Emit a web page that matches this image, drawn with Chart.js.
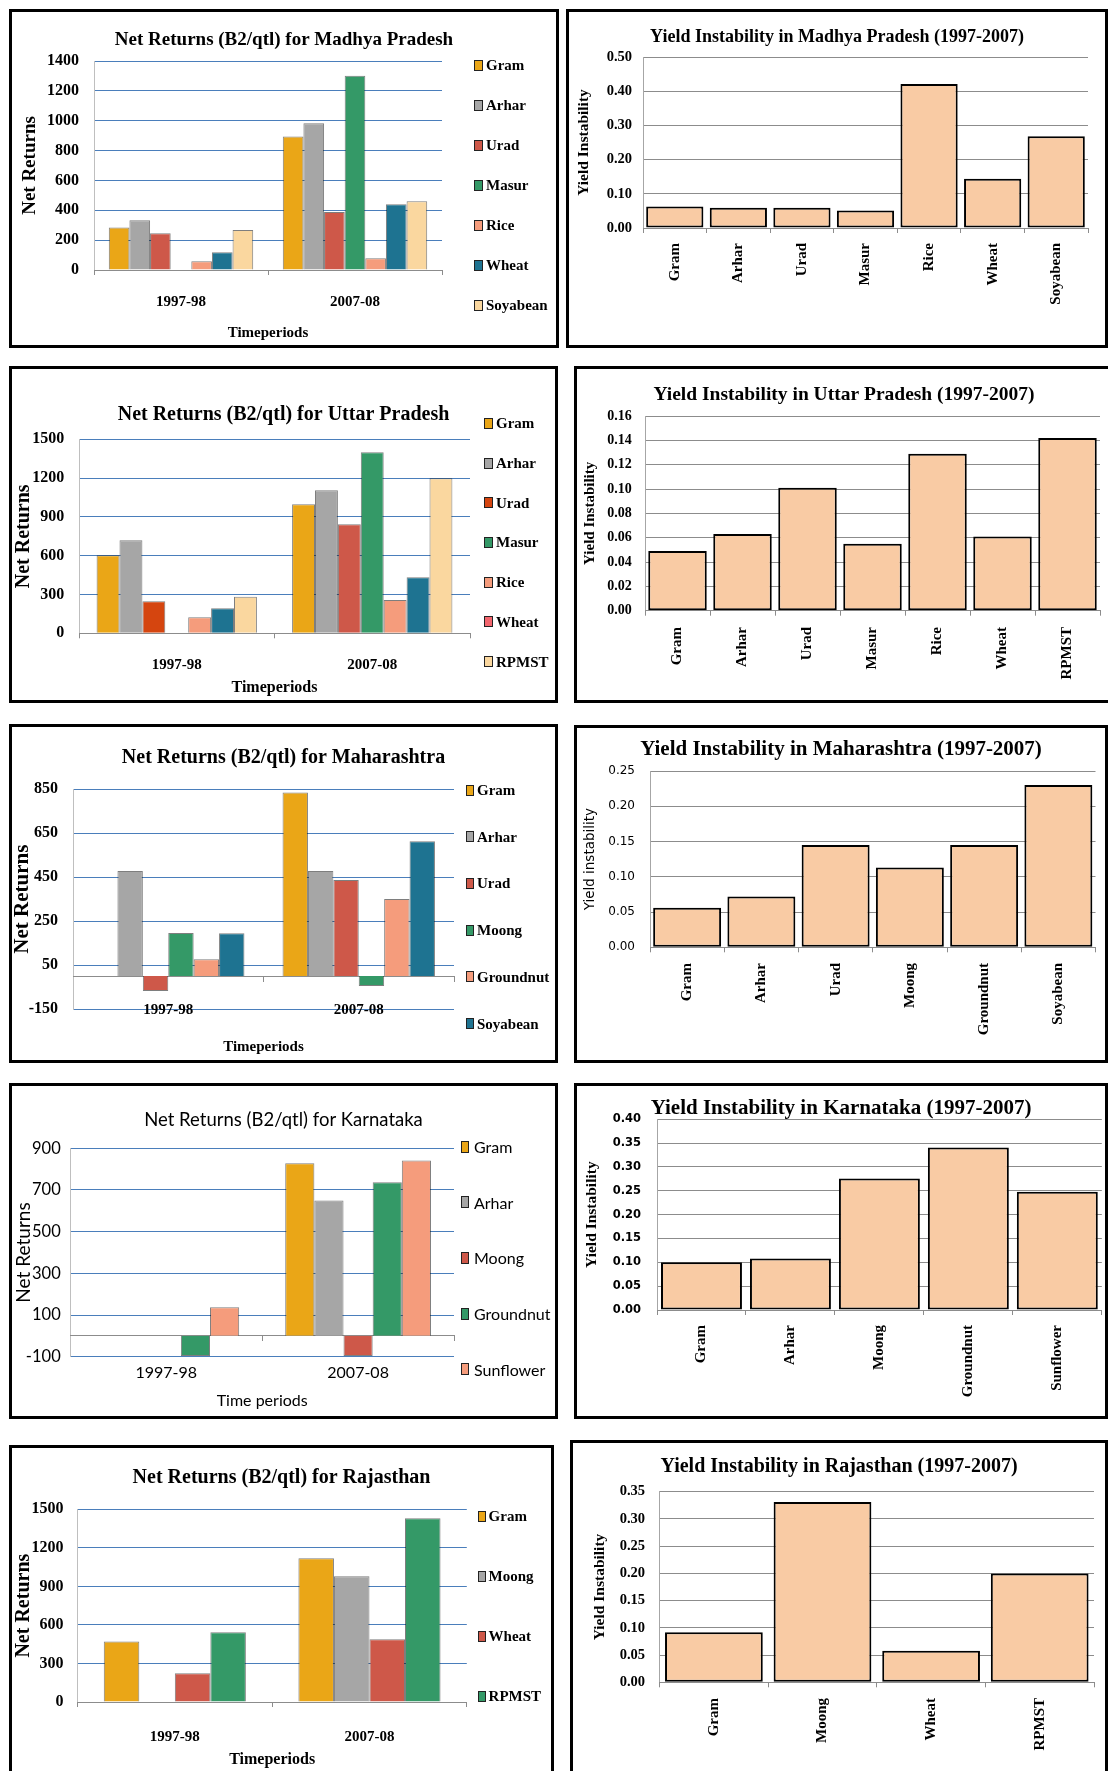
<!DOCTYPE html>
<html><head><meta charset="utf-8">
<script src="https://cdn.jsdelivr.net/npm/chart.js@4.4.1/dist/chart.umd.min.js"></script>
<style>
html,body{margin:0;padding:0;background:#fff;}
body{width:1108px;height:1771px;overflow:hidden;position:relative;}
.panel{position:absolute;border:3px solid #000;box-sizing:border-box;background:#fff;overflow:hidden;}
.panel canvas{position:absolute;left:0;top:0;}
.li{position:absolute;white-space:nowrap;color:#000;}
.sw{position:absolute;border:1px solid #222;box-sizing:border-box;}
</style></head><body>
<script>
// ---------------- DATA ----------------
const periods = ['1997-98', '2007-08'];

const mpCrops = ['Gram', 'Arhar', 'Urad', 'Masur', 'Rice', 'Wheat', 'Soyabean'];
const mpReturns1997 = [284, 333, 246, null, 59, 119, 268];
const mpReturns2007 = [894, 983, 389, 1302, 79, 441, 460];
const mpReturnsAxis = [0, 1400, 200];
const mpInstability = [0.063, 0.059, 0.059, 0.051, 0.421, 0.144, 0.268];
const mpInstabilityAxis = [0, 0.5, 0.1];

const upCrops = ['Gram', 'Arhar', 'Urad', 'Masur', 'Rice', 'Wheat', 'RPMST'];
const upReturns1997 = [603, 719, 247, null, 124, 193, 283];
const upReturns2007 = [997, 1106, 843, 1399, 258, 433, 1198];
const upReturnsAxis = [0, 1500, 300];
const upInstability = [0.049, 0.063, 0.101, 0.055, 0.129, 0.061, 0.142];
const upInstabilityAxis = [0, 0.16, 0.02];

const mhCrops = ['Gram', 'Arhar', 'Urad', 'Moong', 'Groundnut', 'Soyabean'];
const mhReturns1997 = [null, 478, -68, 196, 76, 195];
const mhReturns2007 = [836, 478, 437, -45, 351, 613];
const mhReturnsAxis = [-150, 850, 200];
const mhInstability = [0.056, 0.072, 0.145, 0.113, 0.145, 0.230];
const mhInstabilityAxis = [0, 0.25, 0.05];

const kaCrops = ['Gram', 'Arhar', 'Moong', 'Groundnut', 'Sunflower'];
const kaReturns1997 = [null, null, null, -97, 137];
const kaReturns2007 = [828, 650, -97, 737, 842];
const kaReturnsAxis = [-100, 900, 200];
const kaInstability = [0.100, 0.108, 0.276, 0.341, 0.248];
const kaInstabilityAxis = [0, 0.40, 0.05];

const rjCrops = ['Gram', 'Moong', 'Wheat', 'RPMST'];
const rjReturns1997 = [470, null, 223, 542];
const rjReturns2007 = [1119, 978, 488, 1430];
const rjReturnsAxis = [0, 1500, 300];
const rjInstability = [0.092, 0.331, 0.058, 0.200];
const rjInstabilityAxis = [0, 0.35, 0.05];

// ---------------- STYLE ----------------
const SERIF = "'Liberation Serif', 'Times New Roman', serif";
const LATO = "Lato, 'Open Sans', sans-serif";
const DJV = "'DejaVu Sans', Verdana, sans-serif";
const COL = {gram:'#EAA617', arhar:'#A6A6A6', red:'#CE5849', green:'#349967', salmon:'#F59C7C',
  teal:'#1E7391', light:'#FAD79F', peach:'#F9CBA4', urad97:'#D5450F', pink:'#F3666E'};
const BLUE = '#4A7EBB', GRAY = '#8C8C8C';

Chart.defaults.color = '#000';
Chart.defaults.font.family = SERIF;

function fnt(size, family, weight) { return {size: size, family: family || SERIF, weight: weight || 'bold', lineHeight: 1.2}; }

function createPanel(pn) {
  const div = document.createElement('div');
  div.className = 'panel';
  Object.assign(div.style, {left: pn.x + 'px', top: pn.y + 'px', width: pn.w + 'px', height: pn.h + 'px'});
  const W = pn.w - 6, H = pn.h - 6;
  const cv = document.createElement('canvas');
  cv.width = W; cv.height = H; cv.style.width = W + 'px'; cv.style.height = H + 'px';
  div.appendChild(cv);
  document.body.appendChild(div);
  return {div: div, cv: cv, ox: pn.x + 3, oy: pn.y + 3, W: W, H: H};
}

function baseOptions(P, s) {
  const L = s.area.L - P.ox, R = s.area.R - P.ox, T = s.area.T - P.oy, B = s.area.B - P.oy;
  const tc = s.tc - P.oy;
  const tlh = s.titleFont.size * 1.2;
  const ylh = s.yTitleFont.size * 1.2;
  const o = {
    responsive: false, animation: false, devicePixelRatio: 1,
    layout: {padding: 0},
    plugins: {
      legend: {display: false}, tooltip: {enabled: false},
      title: {display: true, text: s.title, color: '#000', font: s.titleFont, fullSize: true,
        padding: {top: tc - tlh / 2, bottom: T - tc - tlh / 2}}
    },
    scales: {
      y: {
        min: s.axis[0], max: s.axis[1],
        ticks: {stepSize: s.axis[2], font: s.yTickFont, padding: L - (s.yTickRight - P.ox), color: '#000', callback: s.fmt},
        grid: {color: s.gridColor, lineWidth: 1, drawTicks: false},
        border: {display: true, color: s.yBorder},
        title: {display: true, text: s.yTitle, font: s.yTitleFont, color: '#000', padding: {top: s.yTitleX - P.ox - ylh / 2, bottom: 0}},
        afterFit: function (sc) { sc.width = L; }
      },
      yR: {position: 'right', display: true, grid: {display: false}, ticks: {display: false}, border: {display: false},
        afterFit: function (sc) { sc.width = P.W - R; }}
    }
  };
  return {o: o, L: L, R: R, T: T, B: B};
}

function addLegend(P, names, colors, lg) {
  names.forEach(function (n, i) {
    const cy = lg.cy0 + i * lg.dy - P.oy;
    const sw = document.createElement('div');
    sw.className = 'sw';
    Object.assign(sw.style, {left: (lg.sx - P.ox) + 'px', top: (cy - lg.sh / 2) + 'px', width: lg.sw + 'px', height: lg.sh + 'px', background: colors[i]});
    P.div.appendChild(sw);
    const t = document.createElement('div');
    t.className = 'li';
    t.textContent = n;
    Object.assign(t.style, {left: (lg.tx - P.ox) + 'px', top: (cy - lg.fs * 0.6) + 'px', font: lg.weight + ' ' + lg.fs + 'px ' + lg.family, lineHeight: (lg.fs * 1.2) + 'px'});
    P.div.appendChild(t);
  });
}

function returnsChart(s) {
  const P = createPanel(s.panel);
  s.gridColor = function (c) { return (c.tick && c.tick.value === 0) ? GRAY : BLUE; };
  s.yBorder = '#BFBFBF';
  s.fmt = function (v) { return String(v); };
  const b = baseOptions(P, s);
  const xlh = s.xTickFont.size * 1.2, xtlh = s.xTitleFont.size * 1.2;
  const tl = s.zeroMin ? 5 : 0;
  b.o.scales.x = {
    ticks: {display: !s.labelsOnBottomLine, font: s.xTickFont, padding: (s.xLabelY - P.oy) - b.B - tl - xlh / 2, maxRotation: 0, minRotation: 0, autoSkip: false, color: '#000'},
    grid: s.zeroMin ? {display: true, drawOnChartArea: false, drawTicks: true, tickLength: 5, color: GRAY, offset: true}
                    : {display: false, drawTicks: false, offset: true},
    border: {display: !!s.zeroMin, color: GRAY},
    title: {display: true, text: s.xTitle, font: s.xTitleFont, color: '#000', padding: {top: 0, bottom: P.H - (s.xTitleY - P.oy) - xtlh / 2}},
    afterFit: function (sc) { sc.height = P.H - b.B; }
  };
  if (!s.zeroMin) {
    // axis line through zero with tick marks between the periods
    b.o.scales.x0 = {
      type: 'category', position: {y: 0}, offset: true,
      grid: {display: true, drawOnChartArea: false, drawTicks: true, tickLength: 5, color: GRAY, offset: true},
      border: {display: true, color: GRAY},
      ticks: {display: false},
      afterFit: function (sc) { sc.height = 0; }
    };
  }
  if (s.labelsOnBottomLine) {
    // period labels sitting on the lowest gridline
    b.o.scales.xLab = {
      type: 'category', position: {y: s.axis[0]}, offset: true,
      grid: {display: false, drawTicks: false, offset: true},
      border: {display: false},
      ticks: {font: s.xTickFont, padding: (s.xLabelY - P.oy) - b.B - xlh / 2, maxRotation: 0, minRotation: 0, autoSkip: false, color: '#000'},
      afterFit: function (sc) { sc.height = 0; }
    };
  }
  const datasets = s.crops.map(function (c, i) {
    return {label: c, data: [s.v1[i], s.v2[i]], backgroundColor: s.colors[i],
      borderColor: 'rgba(20,20,20,0.55)', borderWidth: 1,
      barPercentage: 1.0, categoryPercentage: s.catPct};
  });
  new Chart(P.cv, {type: 'bar', data: {labels: periods, datasets: datasets}, options: b.o});
  addLegend(P, s.crops, s.legendColors || s.colors, s.legend);
}

function yieldChart(s) {
  const P = createPanel(s.panel);
  s.gridColor = GRAY;
  s.yBorder = '#A6A6A6';
  s.fmt = function (v) { return Number(v).toFixed(2); };
  const b = baseOptions(P, s);
  b.o.scales.x = {
    ticks: {font: s.xTickFont, padding: (s.xLabelTop - P.oy) - b.B - 5, minRotation: 90, maxRotation: 90, autoSkip: false, color: '#000'},
    grid: {display: true, drawOnChartArea: false, drawTicks: true, tickLength: 5, color: GRAY, offset: true},
    border: {display: true, color: GRAY},
    afterFit: function (sc) { sc.height = P.H - b.B; }
  };
  new Chart(P.cv, {type: 'bar', data: {labels: s.crops, datasets: [{label: s.yTitle, data: s.values,
    backgroundColor: COL.peach, borderColor: '#000', borderWidth: 2, borderSkipped: false,
    barPercentage: s.barPct, categoryPercentage: 1.0}]}, options: b.o});
}

// ---------------- CHARTS ----------------
returnsChart({
  panel: {x: 9, y: 9, w: 550, h: 339}, area: {L: 94, R: 442, T: 61, B: 270}, tc: 40,
  title: 'Net Returns (B2/qtl) for Madhya Pradesh', titleFont: fnt(19),
  axis: mpReturnsAxis, yTickFont: fnt(16), yTickRight: 79,
  yTitle: 'Net Returns', yTitleFont: fnt(19), yTitleX: 30,
  xTickFont: fnt(15), xLabelY: 302, xTitle: 'Timeperiods', xTitleFont: fnt(15), xTitleY: 333,
  zeroMin: true, crops: mpCrops, v1: mpReturns1997, v2: mpReturns2007, catPct: 0.83,
  colors: [COL.gram, COL.arhar, COL.red, COL.green, COL.salmon, COL.teal, COL.light],
  legend: {sx: 474, tx: 486, cy0: 65, dy: 40, sw: 9, sh: 11, fs: 15, weight: 'bold', family: SERIF}
});

yieldChart({
  panel: {x: 566, y: 9, w: 542, h: 339}, area: {L: 643, R: 1088, T: 57, B: 228}, tc: 37,
  title: 'Yield Instability in Madhya Pradesh (1997-2007)', titleFont: fnt(18),
  axis: mpInstabilityAxis, yTickFont: fnt(14.5), yTickRight: 632,
  yTitle: 'Yield Instability', yTitleFont: fnt(15.5), yTitleX: 584,
  xTickFont: fnt(15), xLabelTop: 243, crops: mpCrops, values: mpInstability, barPct: 0.9
});

returnsChart({
  panel: {x: 9, y: 366, w: 549, h: 337}, area: {L: 79, R: 470, T: 439.3, B: 633.3}, tc: 415,
  title: 'Net Returns (B2/qtl) for Uttar Pradesh', titleFont: fnt(20),
  axis: upReturnsAxis, yTickFont: fnt(16), yTickRight: 64.3,
  yTitle: 'Net Returns', yTitleFont: fnt(20), yTitleX: 24,
  xTickFont: fnt(15), xLabelY: 665, xTitle: 'Timeperiods', xTitleFont: fnt(16), xTitleY: 688.3,
  zeroMin: true, crops: upCrops, v1: upReturns1997, v2: upReturns2007, catPct: 0.82,
  colors: [COL.gram, COL.arhar, [COL.urad97, COL.red], COL.green, COL.salmon, COL.teal, COL.light],
  legendColors: [COL.gram, COL.arhar, COL.urad97, COL.green, COL.salmon, COL.pink, COL.light],
  legend: {sx: 484, tx: 496, cy0: 423.3, dy: 39.7, sw: 9, sh: 11, fs: 15, weight: 'bold', family: SERIF}
});

yieldChart({
  panel: {x: 574, y: 366, w: 540, h: 337}, area: {L: 645, R: 1100, T: 416, B: 610.7}, tc: 395,
  title: 'Yield Instability in Uttar Pradesh (1997-2007)', titleFont: fnt(19.5),
  axis: upInstabilityAxis, yTickFont: fnt(14), yTickRight: 631.7,
  yTitle: 'Yield Instability', yTitleFont: fnt(15), yTitleX: 590,
  xTickFont: fnt(15), xLabelTop: 627, crops: upCrops, values: upInstability, barPct: 0.9
});

returnsChart({
  panel: {x: 9, y: 724, w: 549, h: 339}, area: {L: 73, R: 454, T: 789.3, B: 1009}, tc: 758.3,
  title: 'Net Returns (B2/qtl) for Maharashtra', titleFont: fnt(20),
  axis: mhReturnsAxis, yTickFont: fnt(16), yTickRight: 58,
  yTitle: 'Net Returns', yTitleFont: fnt(21), yTitleX: 23,
  xTickFont: fnt(15), xLabelY: 1010, xTitle: 'Timeperiods', xTitleFont: fnt(15), xTitleY: 1046.7,
  zeroMin: false, labelsOnBottomLine: true, crops: mhCrops, v1: mhReturns1997, v2: mhReturns2007, catPct: 0.80,
  colors: [COL.gram, COL.arhar, COL.red, COL.green, COL.salmon, COL.teal],
  legend: {sx: 466, tx: 477, cy0: 790, dy: 46.7, sw: 8, sh: 11, fs: 15, weight: 'bold', family: SERIF}
});

yieldChart({
  panel: {x: 574, y: 725, w: 534, h: 338}, area: {L: 650, R: 1095.5, T: 771, B: 947.3}, tc: 750,
  title: 'Yield Instability in Maharashtra (1997-2007)', titleFont: fnt(21),
  axis: mhInstabilityAxis, yTickFont: fnt(12, DJV, 'normal'), yTickRight: 635,
  yTitle: 'Yield instability', yTitleFont: fnt(13.5, DJV, 'normal'), yTitleX: 590,
  xTickFont: fnt(15), xLabelTop: 963, crops: mhCrops, values: mhInstability, barPct: 0.915
});

returnsChart({
  panel: {x: 9, y: 1083, w: 549, h: 336}, area: {L: 70.4, R: 454, T: 1148.3, B: 1356.7}, tc: 1120,
  title: 'Net Returns (B2/qtl) for Karnataka', titleFont: fnt(18.5, LATO, 'normal'),
  axis: kaReturnsAxis, yTickFont: fnt(16.5, LATO, 'normal'), yTickRight: 60.7,
  yTitle: 'Net Returns', yTitleFont: fnt(19, LATO, 'normal'), yTitleX: 24,
  xTickFont: fnt(16, LATO, 'normal'), xLabelY: 1373.3, xTitle: 'Time periods', xTitleFont: fnt(16, LATO, 'normal'), xTitleY: 1401,
  zeroMin: false, crops: kaCrops, v1: kaReturns1997, v2: kaReturns2007, catPct: 0.76,
  colors: [COL.gram, COL.arhar, COL.red, COL.green, COL.salmon],
  legend: {sx: 460.7, tx: 474, cy0: 1146.7, dy: 55.6, sw: 8, sh: 12, fs: 16, weight: 'normal', family: LATO}
});

yieldChart({
  panel: {x: 574, y: 1083, w: 534, h: 336}, area: {L: 657, R: 1101.8, T: 1119.3, B: 1310}, tc: 1108.3,
  title: 'Yield Instability in Karnataka (1997-2007)', titleFont: fnt(21),
  axis: kaInstabilityAxis, yTickFont: fnt(11.5, DJV, 'bold'), yTickRight: 641,
  yTitle: 'Yield Instability', yTitleFont: fnt(15.5), yTitleX: 591.5,
  xTickFont: fnt(15), xLabelTop: 1325, crops: kaCrops, values: kaInstability, barPct: 0.91
});

returnsChart({
  panel: {x: 9, y: 1445, w: 545, h: 340}, area: {L: 77.5, R: 466.8, T: 1509.3, B: 1702}, tc: 1478.3,
  title: 'Net Returns (B2/qtl) for Rajasthan', titleFont: fnt(20),
  axis: rjReturnsAxis, yTickFont: fnt(16), yTickRight: 63.6,
  yTitle: 'Net Returns', yTitleFont: fnt(20), yTitleX: 24,
  xTickFont: fnt(15), xLabelY: 1736.7, xTitle: 'Timeperiods', xTitleFont: fnt(16), xTitleY: 1760,
  zeroMin: true, crops: rjCrops, v1: rjReturns1997, v2: rjReturns2007, catPct: 0.73,
  colors: [COL.gram, COL.arhar, COL.red, COL.green],
  legend: {sx: 477.5, tx: 488.6, cy0: 1516, dy: 60, sw: 8, sh: 11, fs: 15, weight: 'bold', family: SERIF}
});

yieldChart({
  panel: {x: 570, y: 1440, w: 538, h: 345}, area: {L: 659.6, R: 1094, T: 1491.7, B: 1682.3}, tc: 1466.7,
  title: 'Yield Instability in Rajasthan (1997-2007)', titleFont: fnt(20),
  axis: rjInstabilityAxis, yTickFont: fnt(14.5), yTickRight: 645,
  yTitle: 'Yield Instability', yTitleFont: fnt(15.5), yTitleX: 600,
  xTickFont: fnt(15), xLabelTop: 1698, crops: rjCrops, values: rjInstability, barPct: 0.9
});
</script>
</body></html>
